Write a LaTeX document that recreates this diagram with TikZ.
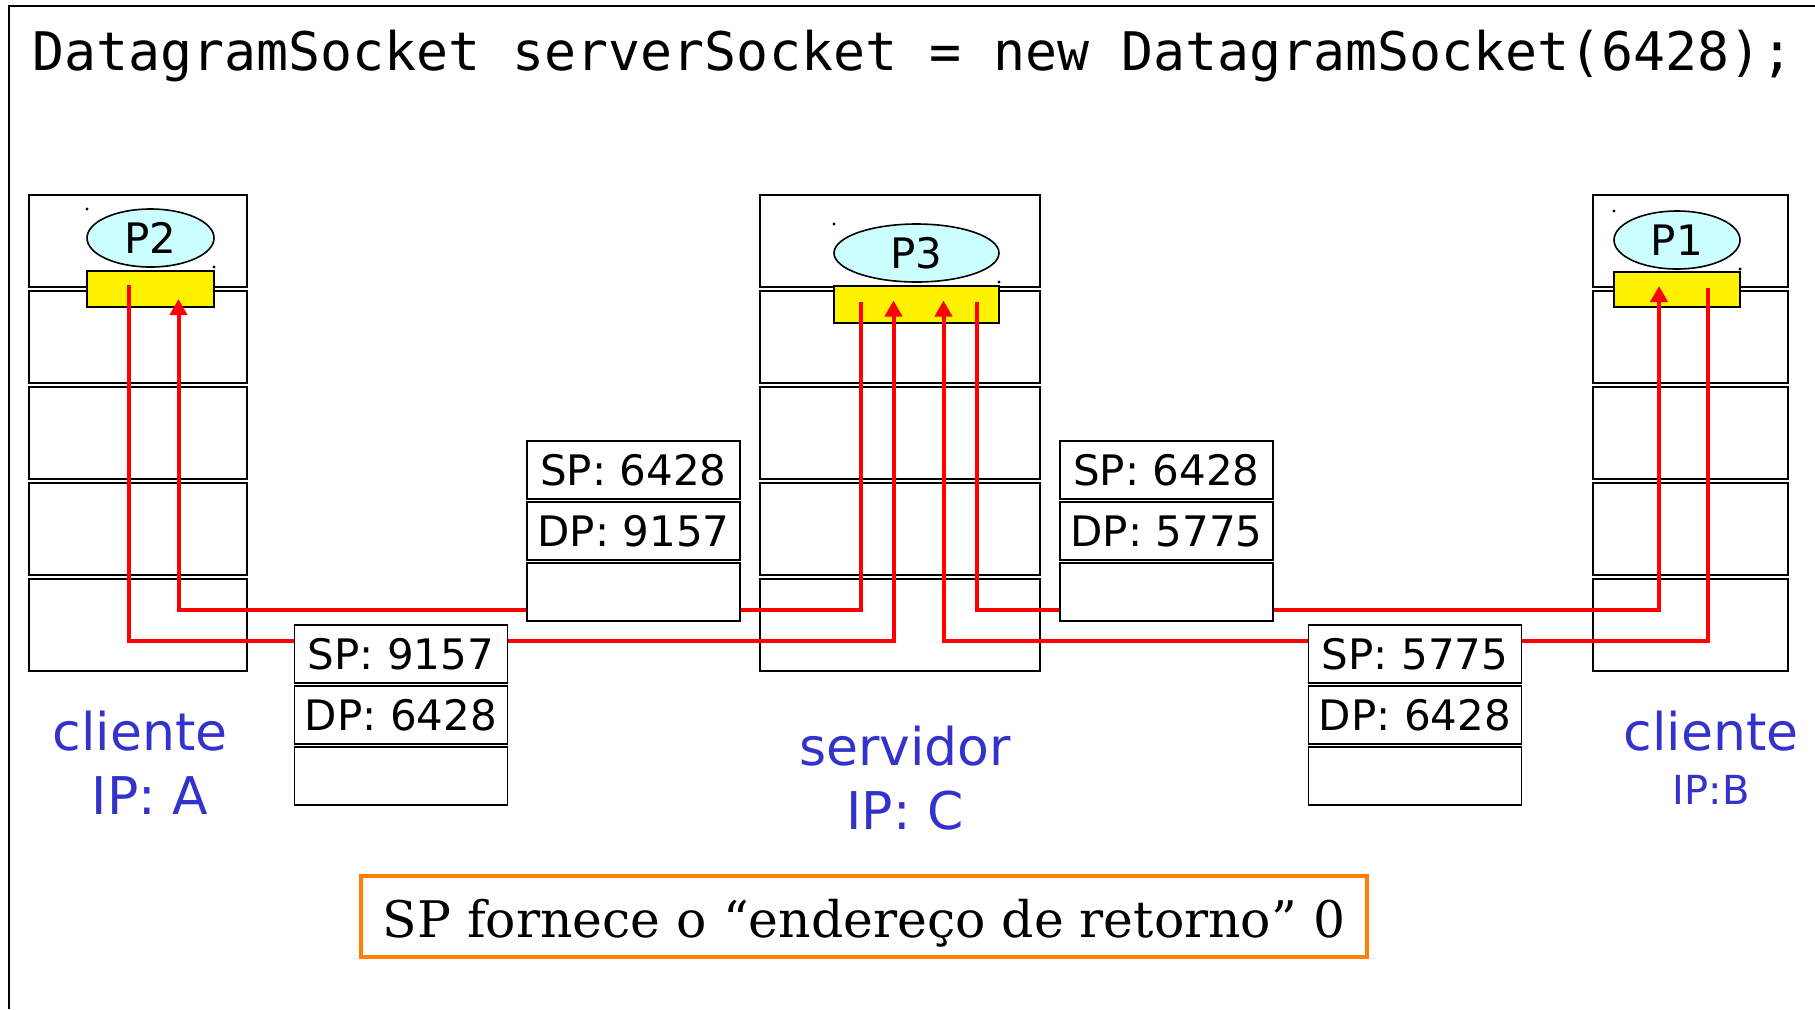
\documentclass[tikz,border=0pt]{standalone}
\usepackage{fontspec}
\setmainfont{DejaVu Sans}
\newfontfamily\codefont{DejaVu Sans Mono}
\newfontfamily\notefont{DejaVu Serif}
\usetikzlibrary{arrows.meta,positioning,calc,shapes.geometric}
\definecolor{hostblue}{RGB}{51,51,204}
\definecolor{procfill}{RGB}{204,255,255}
\definecolor{noteorange}{RGB}{255,128,0}

\begin{document}
\begin{tikzpicture}[x=0.5pt,y=-0.5pt,
layer/.style={draw,line width=0.9pt,minimum height=46pt,inner sep=0pt,outer sep=0pt},
sock/.style={draw,line width=0.8pt,fill=yellow,inner sep=0pt,outer sep=0pt},
proc/.style={ellipse,draw,line width=0.8pt,fill=procfill,inner sep=0pt,outer sep=0pt,
minimum height=29pt,font=\fontsize{21}{21}\selectfont},
field/.style={draw,line width=0.9pt,fill=white,minimum width=106.5pt,minimum height=29pt,
inner sep=0pt,outer sep=0pt,font=\fontsize{21}{21}\selectfont},
host/.style={text=hostblue,anchor=base,inner sep=0pt,font=\fontsize{26}{26}\selectfont},
wire/.style={red,line width=2pt},
flow/.style={wire,-{Triangle[width=8.5pt,length=8pt]}}]
\useasboundingbox (0,0) rectangle (1815,1009);
\node[anchor=base west,inner sep=0pt,font=\codefont\fontsize{26.6}{26.6}\selectfont] (code) at (32,70)
{DatagramSocket serverSocket = new DatagramSocket(6428);};
% protocol stacks
\foreach \i in {0,...,4}{
\node[layer,minimum width=109pt] (hostA-\i) at (138,241+96*\i) {};
\node[layer,minimum width=140pt] (hostC-\i) at (900,241+96*\i) {};
\node[layer,minimum width=97.5pt] (hostB-\i) at (1690.5,241+96*\i) {};
}
% sockets and processes
\node[sock,minimum width=63.5pt,minimum height=18pt] (sockA) at (150.5,289) {};
\node[sock,minimum width=82.5pt,minimum height=18.5pt] (sockC) at (916.5,304.5) {};
\node[sock,minimum width=63pt,minimum height=17.5pt] (sockB) at (1677,289.5) {};
\node[proc,minimum width=63.5pt,above=2pt of sockA] (p2) {P2};
\node[proc,minimum width=82.5pt,above=2pt of sockC] (p3) {P3};
\node[proc,minimum width=63pt,above=1.5pt of sockB] (p1) {P1};
\foreach \p in {p2,p3,p1}{
\fill (\p.north -| \p.west) circle (0.8pt);
\fill (\p.south -| \p.east) circle (0.8pt);
}
% segments
\draw[flow] ($(sockA.center)+(-22,-4)$) -- ++(0,356) -| ($(sockC.center)+(-23,-4)$);
\draw[flow] ($(sockC.center)+(-56,-3)$) -- ++(0,308.5) -| ($(sockA.center)+(28,10)$);
\draw[flow] ($(sockB.center)+(31,-2)$) -- ++(0,353.5) -| ($(sockC.center)+(27,-4)$);
\draw[flow] ($(sockC.center)+(60,-3)$) -- ++(0,308.5) -| ($(sockB.center)+(-18,-3.5)$);
\node[field] (reqA-sp) at (401,654) {SP: 9157};
\node[field,below=1.5pt of reqA-sp] (reqA-dp) {DP: 6428};
\node[field,below=1.5pt of reqA-dp] (reqA-data) {};
\node[field] (repA-sp) at (633.5,470) {SP: 6428};
\node[field,below=1.5pt of repA-sp] (repA-dp) {DP: 9157};
\node[field,below=1.5pt of repA-dp] (repA-data) {};
\node[field] (repB-sp) at (1166.5,470) {SP: 6428};
\node[field,below=1.5pt of repB-sp] (repB-dp) {DP: 5775};
\node[field,below=1.5pt of repB-dp] (repB-data) {};
\node[field] (reqB-sp) at (1415,654) {SP: 5775};
\node[field,below=1.5pt of reqB-sp] (reqB-dp) {DP: 6428};
\node[field,below=1.5pt of reqB-dp] (reqB-data) {};
% host labels
\node[host] (nameA) at (140,750) {cliente};
\node[host] (ipA) at (150,814) {IP: A};
\node[host] (nameC) at (905,765) {servidor};
\node[host] (ipC) at (905,829) {IP: C};
\node[host] (nameB) at (1711,750) {cliente};
\node[host,font=\fontsize{20}{20}\selectfont] (ipB) at (1711,804) {IP:B};
\node[draw=noteorange,line width=2.25pt,minimum width=503pt,minimum height=40.5pt,inner sep=0pt,
text height=23pt,text depth=2.5pt,font=\notefont\fontsize{25.2}{25.2}\selectfont] (note) at (864,916.5)
{SP fornece o “endereço de retorno” 0};
\draw[line width=1pt] (9,1009) -- (9,6) -- (1815,6);
\end{tikzpicture}
\end{document}
